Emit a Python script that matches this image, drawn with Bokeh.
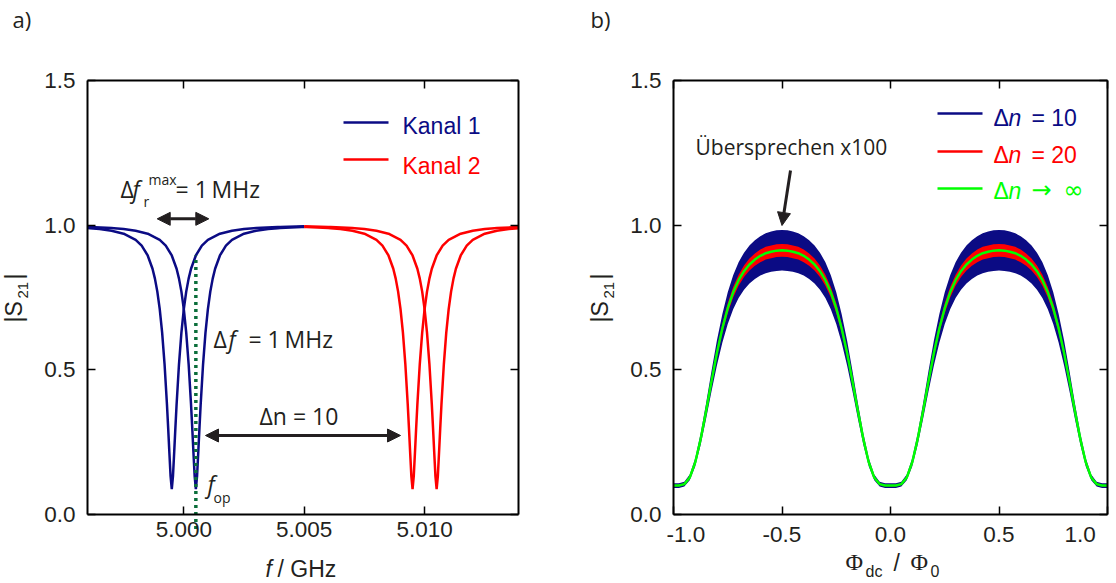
import math
from bokeh.plotting import figure
from bokeh.layouts import row
from bokeh.models import Range1d, LinearAxis, FixedTicker, PrintfTickFormatter, Label, Arrow, NormalHead
from bokeh.embed import file_html
from bokeh.resources import INLINE

# ---------------- data, panel a) ----------------
# resonance dip profile |S21| versus detuning from the resonance (MHz)
dip_offset_mhz = [-5.5, -4.5, -4.4, -3.5, -3.4, -3.0, -2.5, -2.0, -1.5, -1.25, -1.0, -0.8, -0.7,
                  -0.6, -0.5, -0.4, -0.3, -0.2, -0.15, -0.1, -0.05, 0.0,
                  0.05, 0.1, 0.15, 0.2, 0.3, 0.4, 0.5, 0.6, 0.7, 0.8, 1.0, 1.25, 1.5, 2.0, 2.5,
                  3.0, 3.4, 3.5, 4.4, 4.5, 5.5]
dip_s21 = [0.9959, 0.9939, 0.9937, 0.9900, 0.9894, 0.9865, 0.9807, 0.9704, 0.9491, 0.9291,
           0.8953, 0.8493, 0.8153, 0.7703, 0.7099, 0.6285, 0.5200, 0.3803, 0.2994, 0.2143,
           0.1325, 0.088,
           0.1325, 0.2143, 0.2994, 0.3803, 0.5200, 0.6285, 0.7099, 0.7703, 0.8153, 0.8493,
           0.8953, 0.9291, 0.9491, 0.9704, 0.9807, 0.9865, 0.9894, 0.9900, 0.9937, 0.9939,
           0.9959]
kanal1_res_ghz = [4.9995, 5.0005]
kanal2_res_ghz = [5.0095, 5.0105]
channel_boundary_ghz = 5.005
f_op_ghz = 5.0005

a_xlim = (4.996, 5.0139)
a_xticks = [5.000, 5.005, 5.010]
ylim = (0.0, 1.5)
yticks = [0.0, 0.5, 1.0, 1.5]

# ---------------- data, panel b) (half period; curves are symmetric and periodic) ----------
phi_half = [0.0, 0.025, 0.05, 0.075, 0.1, 0.125, 0.15, 0.175, 0.2, 0.225, 0.25, 0.275, 0.3,
            0.325, 0.35, 0.375, 0.4, 0.425, 0.45, 0.475, 0.5]
s21_inf_half = [0.100, 0.100, 0.105, 0.128, 0.180, 0.260, 0.357, 0.460, 0.558, 0.643, 0.713,
                0.768, 0.810, 0.841, 0.864, 0.881, 0.894, 0.903, 0.908, 0.912, 0.913]
s21_n10_hi_half = [0.108, 0.108, 0.113, 0.138, 0.194, 0.280, 0.384, 0.495, 0.601, 0.692, 0.768,
                   0.827, 0.872, 0.905, 0.930, 0.948, 0.962, 0.972, 0.978, 0.982, 0.983]
s21_n10_lo_half = [0.092, 0.092, 0.097, 0.118, 0.166, 0.240, 0.330, 0.425, 0.515, 0.594, 0.658,
                   0.709, 0.748, 0.777, 0.798, 0.814, 0.826, 0.834, 0.839, 0.842, 0.843]
s21_n20_hi_half = [0.102, 0.102, 0.108, 0.131, 0.184, 0.266, 0.366, 0.471, 0.571, 0.658, 0.730,
                   0.786, 0.829, 0.861, 0.885, 0.902, 0.916, 0.925, 0.930, 0.934, 0.935]
s21_n20_lo_half = [0.098, 0.098, 0.102, 0.125, 0.176, 0.254, 0.348, 0.449, 0.545, 0.628, 0.696,
                   0.750, 0.791, 0.821, 0.843, 0.860, 0.872, 0.881, 0.886, 0.890, 0.891]
b_xlim = (-1.0, 1.0)
b_xticks = [-1.0, -0.5, 0.0, 0.5, 1.0]

NAVY = "#0b0b84"
RED = "#ff0000"
LIME = "#00ff00"
DOTGREEN = "#0b6e3a"
INK = "#231f20"
TICKFONT = "Liberation Sans"
ANNFONT = "Open Sans"

H = 582
BOX_H = 434
# baseline correction (fraction of font size) for how the text is anchored
BASE_FIX = {"Open Sans": 0.42, "Liberation Sans": 0.26, "Liberation Serif": 0.26,
            "DejaVu Sans": 0.28}


def periodic_phi(half):
    one = list(half) + [1.0 - q for q in reversed(half[:-1])]
    return [-q for q in reversed(one)] + one[1:]


def periodic_vals(half):
    one = list(half) + list(reversed(half[:-1]))
    return list(reversed(one)) + one[1:]


def padded(lim, box_px, pad_lo, pad_hi):
    k = (lim[1] - lim[0]) / box_px
    return Range1d(lim[0] - pad_lo * k, lim[1] + pad_hi * k)


def add_axes(p, xlim, xticks, xfmt, x_overrides=None):
    specs = [
        ("below", ylim[0], xlim, xticks, xfmt, True),
        ("left", xlim[0], ylim, yticks, "%.1f", True),
        ("above", ylim[1], xlim, xticks, xfmt, False),
        ("right", xlim[1], ylim, yticks, "%.1f", False),
    ]
    for side, loc, bnds, ticks, fmt, labels in specs:
        ax = LinearAxis(fixed_location=loc, bounds=bnds, ticker=FixedTicker(ticks=ticks),
                        formatter=PrintfTickFormatter(format=fmt))
        ax.axis_line_width = 2
        ax.axis_line_color = "black"
        ax.major_tick_in = 8
        ax.major_tick_out = 0
        ax.major_tick_line_width = 1.5
        ax.major_tick_line_color = "black"
        ax.minor_tick_line_color = None
        if labels:
            ax.major_label_text_font = TICKFONT
            ax.major_label_text_font_size = "22.5px"
            ax.major_label_text_color = INK
            ax.major_label_standoff = 7 if side == "below" else 12
            if side == "below" and x_overrides:
                ax.major_label_overrides = x_overrides
        else:
            ax.major_label_text_color = None
            ax.major_label_text_alpha = 0
        p.add_layout(ax, side)


def txt(p, x, y, text, size, color=INK, font=ANNFONT, style="normal", rotated=False):
    fix_px = BASE_FIX[font] * float(size[:-2])
    if rotated:
        x = x - (fix_px + 6) * p.kx
    else:
        y = y + fix_px * p.ky
    p.add_layout(Label(x=x, y=y, text=text, text_font=font, text_font_size=size,
                       text_font_style=style, text_color=color, text_baseline="alphabetic",
                       text_align="left", angle=math.pi / 2 if rotated else 0.0))


def arrow(p, x0, y0, x1, y1, both=True):
    head = dict(size=13, fill_color=INK, line_color=INK, line_width=1)
    p.add_layout(Arrow(start=NormalHead(**head) if both else None, end=NormalHead(**head),
                       x_start=x0, y_start=y0, x_end=x1, y_end=y1,
                       line_width=3, line_color=INK))


class Panel:
    pass


def new_fig(w, xlim, box_w, pad_l, pad_r):
    p = figure(width=w, height=H,
               x_range=padded(xlim, box_w, pad_l, pad_r),
               y_range=padded(ylim, BOX_H, H - 514, 80),
               x_axis_type=None, y_axis_type=None,
               output_backend="svg", toolbar_location=None,
               min_border=0, min_border_left=0, min_border_right=0,
               min_border_top=0, min_border_bottom=0)
    p.outline_line_color = None
    p.background_fill_color = "white"
    p.border_fill_color = "white"
    h = Panel()
    h.fig = p
    h.kx = (xlim[1] - xlim[0]) / box_w
    h.ky = (ylim[1] - ylim[0]) / BOX_H
    h.add_layout = p.add_layout
    return h


# ================= panel a =================
A = new_fig(548, a_xlim, 431, 87, 30)
pa = A.fig
add_axes(pa, a_xlim, a_xticks, "%.3f")

for centers, color, keep in ((kanal1_res_ghz, NAVY, lambda f: f <= channel_boundary_ghz + 1e-9),
                             (kanal2_res_ghz, RED, lambda f: f >= channel_boundary_ghz - 1e-9)):
    for c in centers:
        xs, ys = [], []
        for off, v in zip(dip_offset_mhz, dip_s21):
            f = c + off / 1000.0
            if keep(f) and a_xlim[0] - 1e-9 <= f <= a_xlim[1] + 1e-9:
                xs.append(f)
                ys.append(v)
        pa.line(xs, ys, line_color=color, line_width=2.5)

# f_op marker: from just below the axis up to the other Kanal-1 curve
other = kanal1_res_ghz[0]
top_val = None
d_off = (f_op_ghz - other) * 1000.0
for i in range(len(dip_offset_mhz) - 1):
    o0, o1 = dip_offset_mhz[i], dip_offset_mhz[i + 1]
    if o0 <= d_off <= o1:
        t = (d_off - o0) / (o1 - o0)
        top_val = dip_s21[i] + t * (dip_s21[i + 1] - dip_s21[i])
pa.line([f_op_ghz, f_op_ghz], [-0.05, top_val], line_color=DOTGREEN, line_width=3.5,
        line_dash="3 4")

# legend (Kanal 1 / Kanal 2)
pa.line([5.006632, 5.008501], [1.3547, 1.3547], line_color=NAVY, line_width=2.5)
pa.line([5.006632, 5.008501], [1.2269, 1.2269], line_color=RED, line_width=2.5)
txt(A, 5.009082, 1.3236, "Kanal 1", "23px", NAVY, TICKFONT)
txt(A, 5.009082, 1.1830, "Kanal 2", "23px", RED, TICKFONT)

# annotations
arrow(A, 4.998895, 1.0219, 5.001038, 1.0219)
txt(A, 4.997371, 1.0921, "Δ", "23px")
txt(A, 4.997869, 1.0921, "f", "23px", style="italic")
txt(A, 4.998326, 1.0610, "r", "14px")
txt(A, 4.998533, 1.1370, "max", "14px")
txt(A, 4.999655, 1.0921, "= 1\u2009MHz", "23px")

txt(A, 5.001233, 0.5737, "Δ", "23px")
txt(A, 5.001856, 0.5737, "f", "23px", style="italic")
txt(A, 5.002686, 0.5737, "= 1\u2009MHz", "23px")

arrow(A, 5.000901, 0.2730, 5.008999, 0.2730)
txt(A, 5.003143, 0.3076, "Δn = 10", "23px")

txt(A, 5.000984, 0.0726, "f", "23px", style="italic")
txt(A, 5.001233, 0.0380, "op", "14px")

# panel letter and axis titles
txt(A, 4.992885, 1.6796, "a)", "22px")
txt(A, 4.993425, 0.6636, "|S", "23px", font=TICKFONT, rotated=True)
txt(A, 4.993716, 0.7465, "21", "15px", font=TICKFONT, rotated=True)
txt(A, 4.993425, 0.8121, "|", "23px", font=TICKFONT, rotated=True)
txt(A, 5.003393, -0.2074, "f", "23px", font=TICKFONT, style="italic")
txt(A, 5.003891, -0.2074, "/ GHz", "23px", font=TICKFONT)

# ================= panel b =================
B = new_fig(566, b_xlim, 434, 125, 7)
pb = B.fig
add_axes(pb, b_xlim, b_xticks, "%.1f",
         x_overrides={-1.0: "\u00a0\u00a0\u00a0\u00a0-1.0", 1.0: "1.0\u00a0\u00a0\u00a0"})

phi = periodic_phi(phi_half)
pb.varea(x=phi, y1=periodic_vals(s21_n10_lo_half), y2=periodic_vals(s21_n10_hi_half),
         fill_color=NAVY)
pb.varea(x=phi, y1=periodic_vals(s21_n20_lo_half), y2=periodic_vals(s21_n20_hi_half),
         fill_color=RED)
pb.line(phi, periodic_vals(s21_inf_half), line_color=LIME, line_width=2.5)

# legend
for yv, col in ((1.3859, NAVY), (1.2545, RED), (1.1267, LIME)):
    pb.line([0.2166, 0.4240], [yv, yv], line_color=col, line_width=2.5)
for yb, col, rest in ((1.3503, NAVY, "= 10"), (1.2234, RED, "= 20")):
    txt(B, 0.4746, yb, "Δ", "23px", col, TICKFONT)
    txt(B, 0.5437, yb, "n", "23px", col, TICKFONT, style="italic")
    txt(B, 0.6497, yb, rest, "23px", col, TICKFONT)
txt(B, 0.4746, 1.0966, "Δ", "23px", LIME, TICKFONT)
txt(B, 0.5437, 1.0966, "n", "23px", LIME, TICKFONT, style="italic")
txt(B, 0.6497, 1.0966, "→", "24px", LIME, "DejaVu Sans")
txt(B, 0.7972, 1.0966, "∞", "24px", LIME, "DejaVu Sans")

txt(B, -0.8986, 1.2407, "Übersprechen x100", "21px")
arrow(B, -0.4608, 1.1889, -0.5, 0.9988, both=False)

txt(B, -1.3825, 1.6796, "b)", "22px")
txt(B, -1.2857, 0.6636, "|S", "23px", font=TICKFONT, rotated=True)
txt(B, -1.2535, 0.7465, "21", "15px", font=TICKFONT, rotated=True)
txt(B, -1.2857, 0.8121, "|", "23px", font=TICKFONT, rotated=True)
txt(B, -0.2074, -0.1866, "Φ", "24px", font="Liberation Serif")
txt(B, -0.1152, -0.2108, "dc", "16px", font=TICKFONT)
txt(B, 0.0138, -0.1866, "/", "23px", font=TICKFONT)
txt(B, 0.0922, -0.1866, "Φ", "24px", font="Liberation Serif")
txt(B, 0.1843, -0.2108, "0", "16px", font=TICKFONT)

layout = row(pa, pb)
open("out.html", "w").write(file_html(layout, INLINE))
